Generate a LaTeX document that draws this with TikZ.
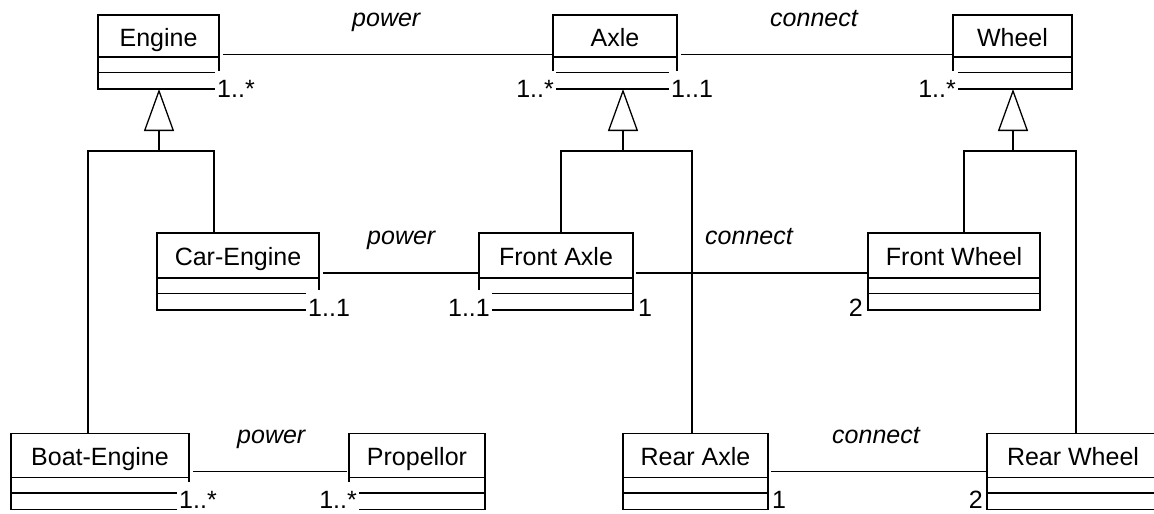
\documentclass[tikz,border=0pt]{standalone}
\usepackage{fontspec}
\setmainfont{Liberation Sans}
\usetikzlibrary{arrows.meta}

\tikzset{
  cls/.style={line width=1.3pt},
  clsname/.style={draw, line width=1.3pt, rectangle, inner sep=0pt, outer sep=0pt,
    text height=20pt, text depth=0pt, font=\fontsize{25pt}{30pt}\selectfont},
  role/.style={anchor=base west, inner sep=0pt, font=\fontsize{25pt}{30pt}\selectfont\itshape},
  mult/.style={fill=white, inner xsep=2pt, inner ysep=3pt, text height=23pt, text depth=1pt,
    font=\fontsize{25pt}{30pt}\selectfont},
  gen/.style={line width=1.3pt, -{Triangle[open, length=42pt, width=30pt]}},
}

% UML class: name compartment plus two empty compartments
% #1 node name, #2 left x, #3 top y, #4 width, #5 name height, #6 class name
\newcommand\umlclass[6]{%
  \node[clsname, minimum width=#4pt, minimum height=#5pt, anchor=north west] (#1) at (#2,#3) {#6};
  \draw[cls] (#1.south west) rectangle ++(#4,15.5);
  \draw[cls] (#1.south west) ++(0,15.5) rectangle ++(#4,16.5);
  \coordinate (#1-bot) at ([yshift=-32pt]#1.south);
}

\begin{document}
\begin{tikzpicture}[x=1pt, y=-1pt]
\useasboundingbox (0,0) rectangle (1154,514);
\fill[white] (0,0) rectangle (1154,514);
\clip (0,0) rectangle (1154,514);

% classes
\umlclass{engine}{98}{15}{121}{42}{Engine}
\umlclass{axle}{553}{15}{124}{42}{Axle}
\umlclass{wheel}{953}{15}{119}{42}{Wheel}
\umlclass{carengine}{157}{233}{162}{45}{Car-Engine}
\umlclass{frontaxle}{479}{233}{154}{45}{Front Axle}
\umlclass{frontwheel}{868}{233}{172}{45}{Front Wheel}
\umlclass{boatengine}{11}{433.5}{178}{44}{Boat-Engine}
\umlclass{propellor}{349}{433.5}{136}{44}{Propellor}
\umlclass{rearaxle}{623}{433.5}{145}{44}{Rear Axle}
\umlclass{rearwheel}{987}{433.5}{172}{44}{Rear Wheel}

% generalisation trees
\coordinate (eL) at (88,151);  \coordinate (eM) at (159,151);  \coordinate (eR) at (214,151);
\coordinate (aL) at (561,151); \coordinate (aM) at (623,151);  \coordinate (aR) at (692,151);
\coordinate (wL) at (964,151); \coordinate (wM) at (1013,151); \coordinate (wR) at (1076,151);

\draw[cls] (boatengine.north -| eL) -- (eL) -- (eR) -- (carengine.north -| eR);
\draw[gen] (eM) -- (engine-bot -| eM);
\draw[cls] (frontaxle.north -| aL) -- (aL) -- (aR) -- (rearaxle.north -| aR);
\draw[gen] (aM) -- (axle-bot -| aM);
\draw[cls] (frontwheel.north -| wL) -- (wL) -- (wR) -- (rearwheel.north -| wR);
\draw[gen] (wM) -- (wheel-bot -| wM);

% associations
\draw[cls] ([xshift=4pt,yshift=-39.5pt]engine.north east) -- ([yshift=-39.5pt]axle.north west);
\draw[cls] ([xshift=4pt,yshift=-39.5pt]axle.north east) -- ([yshift=-39.5pt]wheel.north west);
\draw[cls] ([xshift=4pt,yshift=-40pt]carengine.north east) -- ([yshift=-40pt]frontaxle.north west);
\draw[cls] ([xshift=3pt,yshift=-40pt]frontaxle.north east) -- ([yshift=-40pt]frontwheel.north west);
\draw[cls] ([xshift=4pt,yshift=-38pt]boatengine.north east) -- ([xshift=-2pt,yshift=-38pt]propellor.north west);
\draw[cls] ([xshift=3pt,yshift=-38pt]rearaxle.north east) -- ([yshift=-38pt]rearwheel.north west);

% association names
\node[role] (r1) at (352,26) {power};
\node[role] (r2) at (770,26) {connect};
\node[role] (r3) at (367,244) {power};
\node[role] (r4) at (705,244) {connect};
\node[role] (r5) at (237,443) {power};
\node[role] (r6) at (832,443) {connect};

% multiplicities
\node[mult, anchor=base west] (m1)  at (215,97)  {1..*};
\node[mult, anchor=base east] (m2)  at (556,97)  {1..*};
\node[mult, anchor=base west] (m3)  at (669,97)  {1..1};
\node[mult, anchor=base east] (m4)  at (958,97)  {1..*};
\node[mult, anchor=base west] (m5)  at (306,316) {1..1};
\node[mult, anchor=base east] (m6)  at (492,316) {1..1};
\node[mult, anchor=base west] (m7)  at (636,316) {1};
\node[mult, anchor=base east] (m8)  at (865,316) {2};
\node[mult, anchor=base west] (m9)  at (177,508) {1..*};
\node[mult, anchor=base east] (m10) at (359,508) {1..*};
\node[mult, anchor=base west] (m11) at (770,508) {1};
\node[mult, anchor=base east] (m12) at (985,508) {2};
\end{tikzpicture}
\end{document}
